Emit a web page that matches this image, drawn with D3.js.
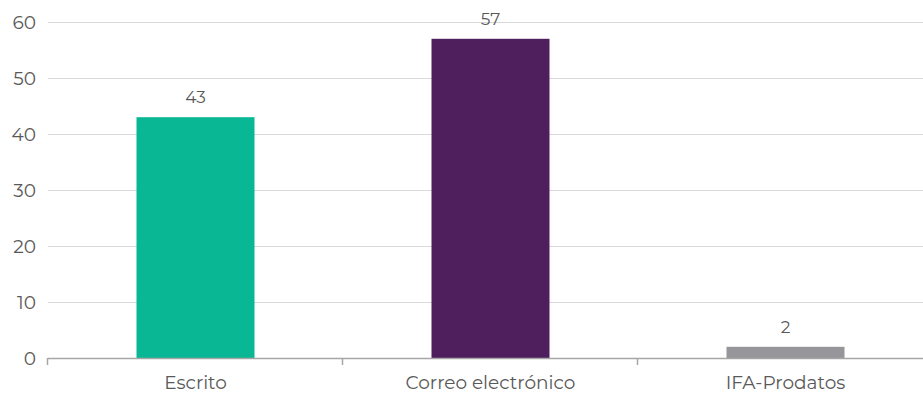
<!DOCTYPE html>
<html><head><meta charset="utf-8">
<script src="https://cdn.jsdelivr.net/npm/d3@7"></script>
<style>body{margin:0;background:#fff;}svg{display:block;font-family:"Montserrat","Lato","Open Sans",sans-serif;}</style>
</head><body>
<svg id="c" width="923" height="394"></svg>
<script>
const categories = ["Escrito", "Correo electrónico", "IFA-Prodatos"];
const values = [43, 57, 2];
const colors = ["#09B795", "#4E1F5C", "#96959A"];
const yTicks = [0, 10, 20, 30, 40, 50, 60];

const svg = d3.select("#c");
const x = d3.scaleBand().domain(categories).range([48, 933]).paddingInner(0.6).paddingOuter(0.3);
const y = d3.scaleLinear().domain([0, 60]).range([358, 22]);

// gridlines
svg.append("g").selectAll("line").data(yTicks.filter(d => d > 0)).join("line")
  .attr("x1", 48).attr("x2", 923)
  .attr("y1", d => y(d) + 0.5).attr("y2", d => y(d) + 0.5)
  .attr("stroke", "#d9d9d9").attr("stroke-width", 1);

// y labels
svg.append("g").selectAll("text").data(yTicks).join("text")
  .attr("x", 36).attr("y", d => y(d)).attr("dy", "0.36em")
  .attr("text-anchor", "end").attr("fill", "#595959").attr("font-size", 18.5)
  .text(d => d);

// bars
svg.append("g").selectAll("rect").data(values).join("rect")
  .attr("x", (d, i) => x(categories[i])).attr("width", x.bandwidth())
  .attr("y", d => y(d)).attr("height", d => y(0) - y(d))
  .attr("fill", (d, i) => colors[i]);

// value labels
svg.append("g").selectAll("text").data(values).join("text")
  .attr("x", (d, i) => x(categories[i]) + x.bandwidth() / 2)
  .attr("y", d => y(d) - 14)
  .attr("text-anchor", "middle").attr("fill", "#595959").attr("font-size", 17)
  .text(d => d);

// x axis
const xAxis = svg.append("g");
xAxis.append("line").attr("x1", 48).attr("x2", 923).attr("y1", 358.5).attr("y2", 358.5)
  .attr("stroke", "#a6a6a6").attr("stroke-width", 1.5);
const step = x.step();
const tickPos = d3.range(4).map(i => 48 + i * step);
xAxis.selectAll("line.t").data(tickPos).join("line").attr("class", "t")
  .attr("x1", d => Math.round(d) - 0.5).attr("x2", d => Math.round(d) - 0.5)
  .attr("y1", 358).attr("y2", 365).attr("stroke", "#a6a6a6").attr("stroke-width", 1.5);
xAxis.selectAll("text").data(categories).join("text")
  .attr("x", d => x(d) + x.bandwidth() / 2).attr("y", 389)
  .attr("text-anchor", "middle").attr("fill", "#595959").attr("font-size", 18.5)
  .text(d => d);
</script>
</body></html>
